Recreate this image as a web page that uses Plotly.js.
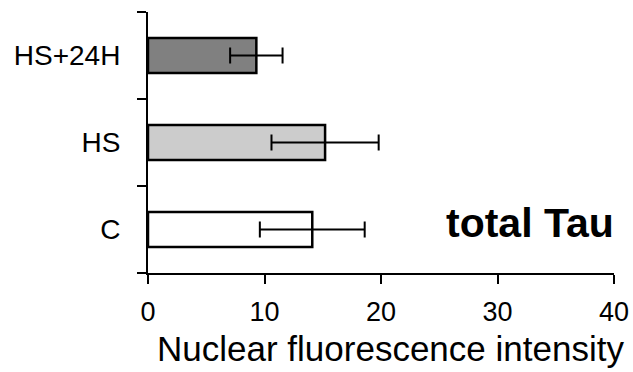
<!DOCTYPE html>
<html><head><meta charset="utf-8">
<script src="https://cdn.plot.ly/plotly-3.0.1.min.js"></script>
<style>html,body{margin:0;padding:0;background:#fff}</style>
</head><body>
<div id="chart" style="width:633px;height:372px"></div>
<script>
const categories = ['C', 'HS', 'HS+24H'];
const values = [14.1, 15.2, 9.3];
const errors = [4.5, 4.6, 2.25];
const barColors = ['#ffffff', '#cccccc', '#808080'];
const xTicks = [0, 10, 20, 30, 40];
const xTitle = 'Nuclear fluorescence intensity';
const panelLabel = 'total Tau';

const trace = {
  type: 'bar', orientation: 'h',
  x: values, y: categories,
  width: 0.4,
  marker: {color: barColors, line: {color: '#000', width: 2.5}},
  error_x: {type: 'data', array: errors, visible: true, color: '#000', thickness: 2, width: 8},
  hoverinfo: 'none'
};
const layout = {
  width: 633, height: 372,
  margin: {l: 148, r: 19, t: 12, b: 99},
  paper_bgcolor: '#fff', plot_bgcolor: '#fff',
  font: {family: 'Liberation Sans, Arial, sans-serif', color: '#000', size: 28},
  showlegend: false,
  xaxis: {
    range: [0, 40], tickvals: xTicks, ticktext: xTicks.map(String),
    showgrid: false, zeroline: false, showline: true, linecolor: '#000', linewidth: 2,
    ticks: 'outside', ticklen: 9, tickwidth: 2, tickcolor: '#000',
    tickfont: {size: 27}, ticklabelstandoff: 5
  },
  yaxis: {
    type: 'category', range: [-0.5, 2.5], tickson: 'boundaries',
    showgrid: false, zeroline: false, showline: true, linecolor: '#000', linewidth: 2,
    ticks: 'outside', ticklen: 9, tickwidth: 2, tickcolor: '#000',
    tickfont: {size: 28}, ticklabelstandoff: 20
  },
  annotations: [{
    text: '<b>' + panelLabel + '</b>', x: 1, y: 0.19, xref: 'paper', yref: 'paper',
    xanchor: 'right', yanchor: 'middle', xshift: 2,
    showarrow: false, font: {size: 41}
  }, {
    text: xTitle, x: 0.52, y: -0.29, xref: 'paper', yref: 'paper',
    xanchor: 'center', yanchor: 'middle',
    showarrow: false, font: {size: 35}
  }]
};
Plotly.newPlot('chart', [trace], layout, {displayModeBar: false, staticPlot: true});
</script>
</body></html>
